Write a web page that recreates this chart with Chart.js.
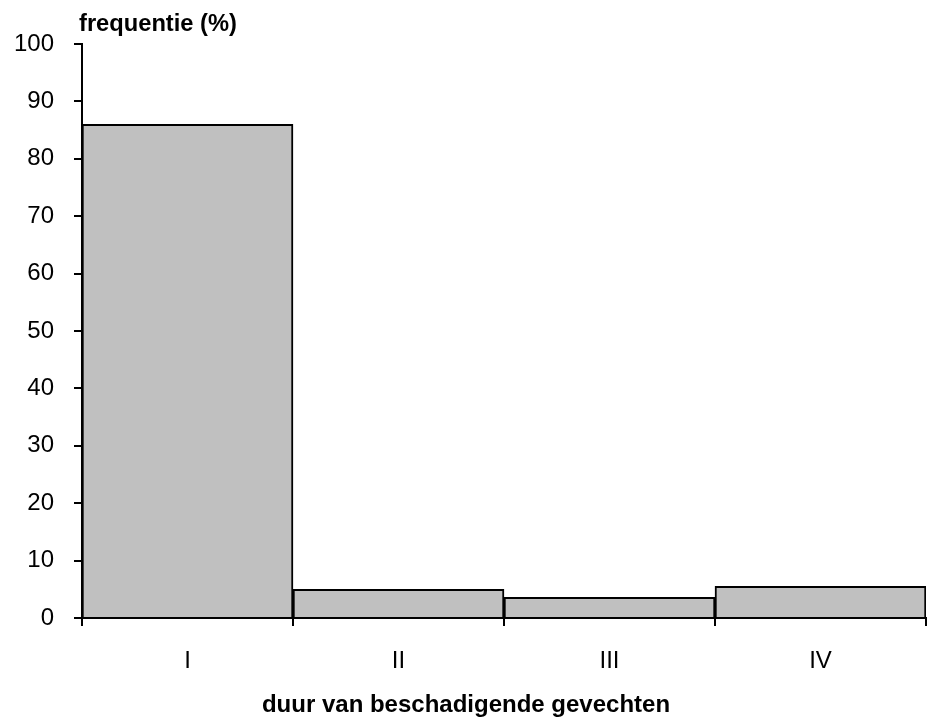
<!DOCTYPE html>
<html>
<head>
<meta charset="utf-8">
<script src="https://cdn.jsdelivr.net/npm/chart.js@4/dist/chart.umd.min.js"></script>
<style>
  html, body { margin: 0; padding: 0; background: #fff; }
  #wrap { width: 927px; height: 718px; }
</style>
</head>
<body>
<div id="wrap"><canvas id="chart"></canvas></div>
<script>
// categories and values
let categories = ['I', 'II', 'III', 'IV'];
let frequencies = [86.0, 5.0, 3.6, 5.5];
let yTitle = 'frequentie (%)';
let xTitle = 'duur van beschadigende gevechten';

let font = 'Liberation Sans, Arial, sans-serif';

// both axis titles: y title above the axis, x title centred on the page
let axisTitles = {
    id: 'axisTitles',
    afterDraw(chart) {
        let ctx = chart.ctx;
        ctx.save();
        ctx.font = 'bold 23.7px ' + font;
        ctx.fillStyle = '#000';
        ctx.textBaseline = 'alphabetic';
        ctx.textAlign = 'left';
        ctx.fillText(yTitle, chart.chartArea.left - 3, 31);
        ctx.textAlign = 'center';
        ctx.font = 'bold 24px ' + font;
        ctx.fillText(xTitle, 466, 712);
        ctx.restore();
    }
};

new Chart(document.getElementById('chart'), {
    type: 'bar',
    data: {
        labels: categories,
        datasets: [{
            data: frequencies,
            backgroundColor: '#c0c0c0',
            borderColor: '#000',
            borderWidth: 2,
            barPercentage: 1,
            categoryPercentage: 1
        }]
    },
    options: {
        responsive: true,
        maintainAspectRatio: false,
        animation: false,
        layout: { padding: { top: 44, right: 1, left: 0, bottom: 0 } },
        plugins: { legend: { display: false }, tooltip: { enabled: false } },
        scales: {
            y: {
                min: 0,
                max: 100,
                ticks: { stepSize: 10, color: '#000', font: { family: font, size: 24 }, padding: 20 },
                grid: { drawOnChartArea: false, color: '#000', lineWidth: 2, tickLength: 8 },
                border: { color: '#000', width: 2 },
                afterFit: s => { s.width = 82; }
            },
            x: {
                ticks: { color: '#000', font: { family: font, size: 24 }, padding: 21 },
                grid: { drawOnChartArea: false, color: '#000', lineWidth: 2, tickLength: 8, offset: true },
                border: { color: '#000', width: 2 },
                afterFit: s => { s.height = 100; }
            }
        }
    },
    plugins: [axisTitles]
});
</script>
</body>
</html>
